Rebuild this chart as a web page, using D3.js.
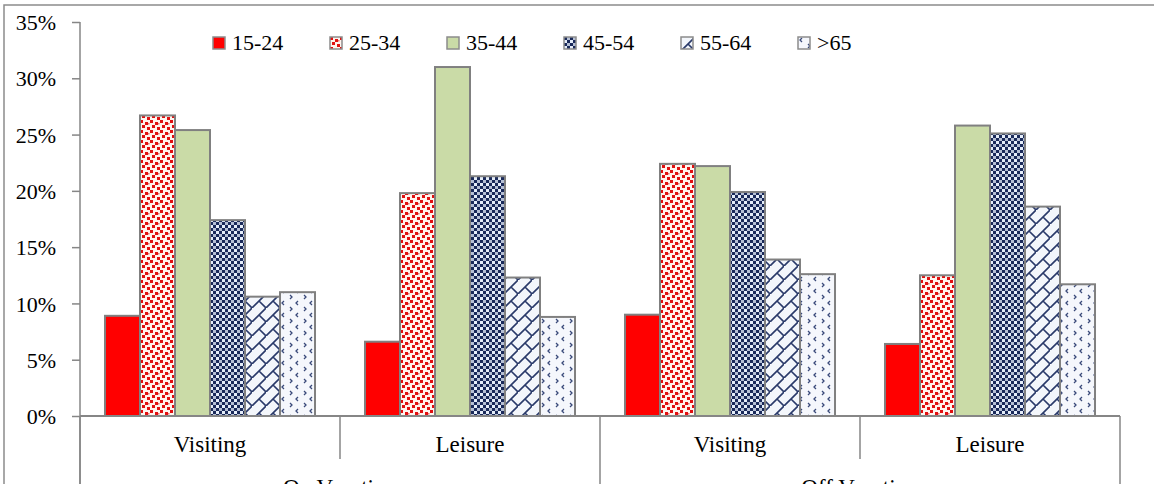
<!DOCTYPE html>
<html><head><meta charset="utf-8">
<script src="https://cdn.jsdelivr.net/npm/d3@7"></script>
</head>
<body style="margin:0;padding:0;background:#fff">
<svg id="c" width="1154" height="484" style="display:block"></svg>
<script>
const subCategories = ["Visiting","Leisure","Visiting","Leisure"];
const mainCategories = ["On Vacation","Off Vacation"];
const series = ["15-24","25-34","35-44","45-54","55-64",">65"];
const v15_24 = [8.9, 6.6, 9.0, 6.4];
const v25_34 = [26.7, 19.8, 22.4, 12.5];
const v35_44 = [25.4, 31.0, 22.2, 25.8];
const v45_54 = [17.4, 21.3, 19.9, 25.1];
const v55_64 = [10.6, 12.3, 13.9, 18.6];
const v65 = [11.0, 8.8, 12.6, 11.7];
const yTicks = [0,5,10,15,20,25,30,35];

const valuesBySeries = [v15_24, v25_34, v35_44, v45_54, v55_64, v65];
const FONT = "Liberation Serif";
const fontStyle = "font-family:'Liberation Serif' !important";

const svg = d3.select("#c");
const W = 1154, H = 484;
const left = 80, right = 1120, y0 = 416, yTop = 22;
const axisColor = "#868686";

const defs = svg.append("defs");
{
  const p = defs.append("pattern").attr("id","p1").attr("patternUnits","userSpaceOnUse").attr("width",10).attr("height",10);
  p.append("rect").attr("width",10).attr("height",10).attr("fill","#fff4ee");
  [[0,0],[5,2],[2,5],[7,7]].forEach(([x,y])=>p.append("rect").attr("x",x).attr("y",y).attr("width",3).attr("height",3).attr("fill","#e01010"));
  p.append("rect").attr("x",8).attr("y",3).attr("width",1.5).attr("height",1.5).attr("fill","#f07070");
}
{
  const p = defs.append("pattern").attr("id","p3").attr("patternUnits","userSpaceOnUse").attr("width",6).attr("height",6);
  p.append("rect").attr("width",6).attr("height",6).attr("fill","#e6eefa");
  p.append("rect").attr("x",0).attr("y",0).attr("width",3).attr("height",3).attr("fill","#1a2a5a");
  p.append("rect").attr("x",3).attr("y",3).attr("width",3).attr("height",3).attr("fill","#1a2a5a");
  p.append("rect").attr("x",3).attr("y",0).attr("width",3).attr("height",3).attr("fill","#5a6a90").attr("opacity",0.35);
}
{
  const p = defs.append("pattern").attr("id","p4").attr("patternUnits","userSpaceOnUse").attr("width",14).attr("height",14);
  p.append("rect").attr("width",14).attr("height",14).attr("fill","#f3f6fb");
  p.append("path").attr("d","M-1,15 L15,-1 M7,7 L14,14").attr("stroke","#2a3a6a").attr("stroke-width",1.6).attr("fill","none");
}
{
  const p = defs.append("pattern").attr("id","p5").attr("patternUnits","userSpaceOnUse").attr("width",14).attr("height",12);
  p.append("rect").attr("width",14).attr("height",12).attr("fill","#f5f7fc");
  p.append("path").attr("d","M4,1 L2,3 L4,5 M10,7 L12,9 L10,11").attr("stroke","#3a4a7a").attr("stroke-width",1.3).attr("fill","none");
}
const fills = ["#ff0000","url(#p1)","#cadba7","url(#p3)","url(#p4)","url(#p5)"];

svg.append("path").attr("d",`M4,${H} L4,5 L${W},5`).attr("fill","none").attr("stroke","#8c8c8c").attr("stroke-width",1.5);

const x0 = d3.scaleBand().domain(d3.range(subCategories.length)).range([left,right]).padding(0);
const x1 = d3.scaleBand().domain(series).range([0,x0.bandwidth()]).paddingInner(0).paddingOuter(0.714);
const y = d3.scaleLinear().domain([0,35]).range([y0,yTop]);

const yAxis = d3.axisLeft(y).tickValues(yTicks).tickSize(8).tickSizeOuter(0).tickPadding(16).tickFormat(d=>d+"%");
const ya = svg.append("g").attr("transform",`translate(${left},0)`).call(yAxis).attr("font-family",FONT).attr("font-size",22);
ya.select(".domain").remove();
ya.selectAll(".tick line").attr("stroke",axisColor).attr("stroke-width",1.5);
ya.selectAll(".tick text").attr("font-size",22).attr("font-family",FONT).attr("style",fontStyle).attr("fill","#000").attr("dy","0.35em");
svg.append("line").attr("x1",left).attr("x2",left).attr("y1",yTop).attr("y2",H).attr("stroke",axisColor).attr("stroke-width",1.5);

series.forEach((s,si)=>{
  svg.append("g").selectAll("rect").data(valuesBySeries[si]).join("rect")
    .attr("x",(d,i)=>x0(i)+x1(s))
    .attr("y",d=>y(d))
    .attr("width",x1.bandwidth())
    .attr("height",d=>y0-y(d))
    .attr("fill",fills[si])
    .attr("stroke","#808080").attr("stroke-width",2);
});

svg.append("line").attr("x1",left).attr("x2",right).attr("y1",y0).attr("y2",y0).attr("stroke",axisColor).attr("stroke-width",2);
d3.range(subCategories.length+1).forEach(i=>{
  const xx = i<subCategories.length ? x0(i) : right;
  const full = (i%2===0);
  svg.append("line").attr("x1",xx).attr("x2",xx).attr("y1",y0).attr("y2",full?H:459).attr("stroke",axisColor).attr("stroke-width",1.5);
});
svg.append("g").selectAll("text").data(subCategories).join("text")
  .attr("x",(d,i)=>x0(i)+x0.bandwidth()/2).attr("y",452)
  .attr("text-anchor","middle").attr("font-size",23).attr("font-family",FONT).attr("style",fontStyle).attr("fill","#000").text(d=>d);
svg.append("g").selectAll("text").data(mainCategories).join("text")
  .attr("x",(d,i)=>x0(i*2)+x0.bandwidth()).attr("y",495)
  .attr("text-anchor","middle").attr("font-size",23).attr("font-family",FONT).attr("style",fontStyle).attr("fill","#000").text(d=>d);

const lx = d3.scalePoint().domain(series).range([213,798]);
const lg = svg.append("g").selectAll("g").data(series).join("g").attr("transform",d=>`translate(${lx(d)},37)`);
lg.append("rect").attr("width",12).attr("height",12).attr("fill",(d,i)=>fills[i]).attr("stroke","#8c8c8c").attr("stroke-width",1.5);
lg.append("text").attr("x",19).attr("y",13).attr("font-size",22).attr("font-family",FONT).attr("style",fontStyle).attr("fill","#000").text(d=>d);
</script>
</body></html>
